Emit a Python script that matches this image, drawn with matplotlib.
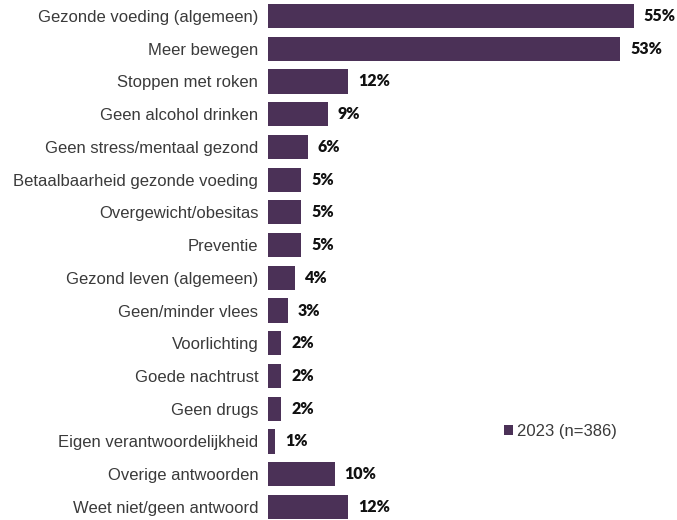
import matplotlib
matplotlib.use("Agg")
from matplotlib import pyplot as plt

# ------------------------------------------------------------------------------
# Data
# ------------------------------------------------------------------------------
categories = [
    "Gezonde voeding (algemeen)",
    "Meer bewegen",
    "Stoppen met roken",
    "Geen alcohol drinken",
    "Geen stress/mentaal gezond",
    "Betaalbaarheid gezonde voeding",
    "Overgewicht/obesitas",
    "Preventie",
    "Gezond leven (algemeen)",
    "Geen/minder vlees",
    "Voorlichting",
    "Goede nachtrust",
    "Geen drugs",
    "Eigen verantwoordelijkheid",
    "Overige antwoorden",
    "Weet niet/geen antwoord",
]
values = [55, 53, 12, 9, 6, 5, 5, 5, 4, 3, 2, 2, 2, 1, 10, 12]
series_name = "2023 (n=386)"

barColor = "#4b3157"
labelColor = "#3a3a3a"

# ------------------------------------------------------------------------------
# Plot
# ------------------------------------------------------------------------------
fig = plt.figure(figsize=(6.77, 5.20), dpi=100)
ax = fig.add_axes([0.396, 0.0, 0.604, 1.0])

ypos = list(range(len(categories)))
ax.barh(ypos, values, height=0.74, color=barColor, label=series_name)

for y, v in zip(ypos, values):
    ax.text(v + 1.5, y, f"{v}%", va="center", ha="left", fontsize=11.5,
            fontweight="heavy", family="Lato", color="#111111")

ax.set_yticks(ypos)
ax.set_yticklabels(categories, fontsize=12, family="Liberation Sans", color=labelColor)
ax.tick_params(axis="y", length=0, pad=7)
ax.set_xticks([])
ax.set_xlim(0, 61.5)
ax.set_ylim(15.40, -0.49)
for s in ax.spines.values():
    s.set_visible(False)

ax.legend(loc="center left", bbox_to_anchor=(0.54, 0.17), frameon=False,
          handlelength=0.55, handleheight=0.55, handletextpad=0.25,
          prop={"family": "Liberation Sans", "size": 12}, labelcolor=labelColor)

fig.savefig("out.png", dpi=100)
